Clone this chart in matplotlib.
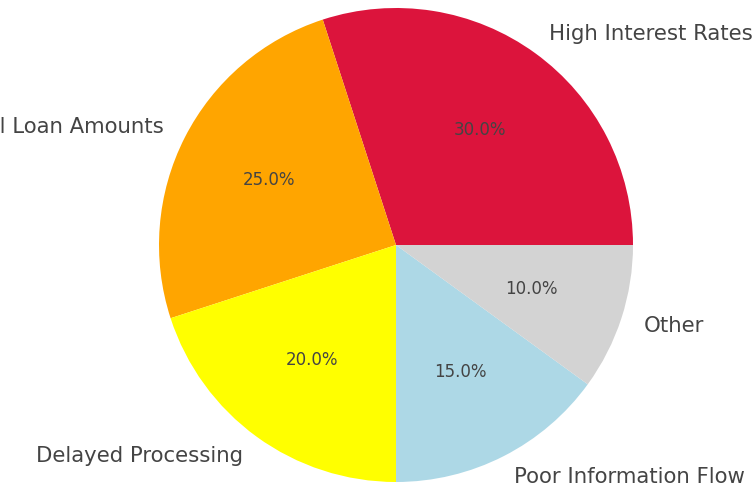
import matplotlib
matplotlib.use("Agg")
import matplotlib.pyplot as plt

labels = ['High Interest Rates', 'Small Loan Amounts', 'Delayed Processing',
          'Poor Information Flow', 'Other']
sizes = [30, 25, 20, 15, 10]
colors = ['crimson', 'orange', 'yellow', 'lightblue', 'lightgray']

fig = plt.figure(figsize=(7.55, 4.92), dpi=100)
ax = fig.add_axes([0, 0, 1, 1])

wedges, texts, autotexts = ax.pie(sizes, labels=labels, colors=colors,
                                  autopct='%1.1f%%', startangle=0,
                                  textprops={'fontsize': 15.3, 'color': '#444444'})
for t in autotexts:
    t.set_fontsize(12)
    t.set_color('#444444')

# pie centre / radius placed to match the reference crop
cx, cy, r = 396, 245, 237
ax.set_xlim(-cx / r, (755 - cx) / r)
ax.set_ylim(-(492 - cy) / r, cy / r)
ax.set_aspect('auto')
ax.axis('off')

fig.savefig('out.png', dpi=100)
